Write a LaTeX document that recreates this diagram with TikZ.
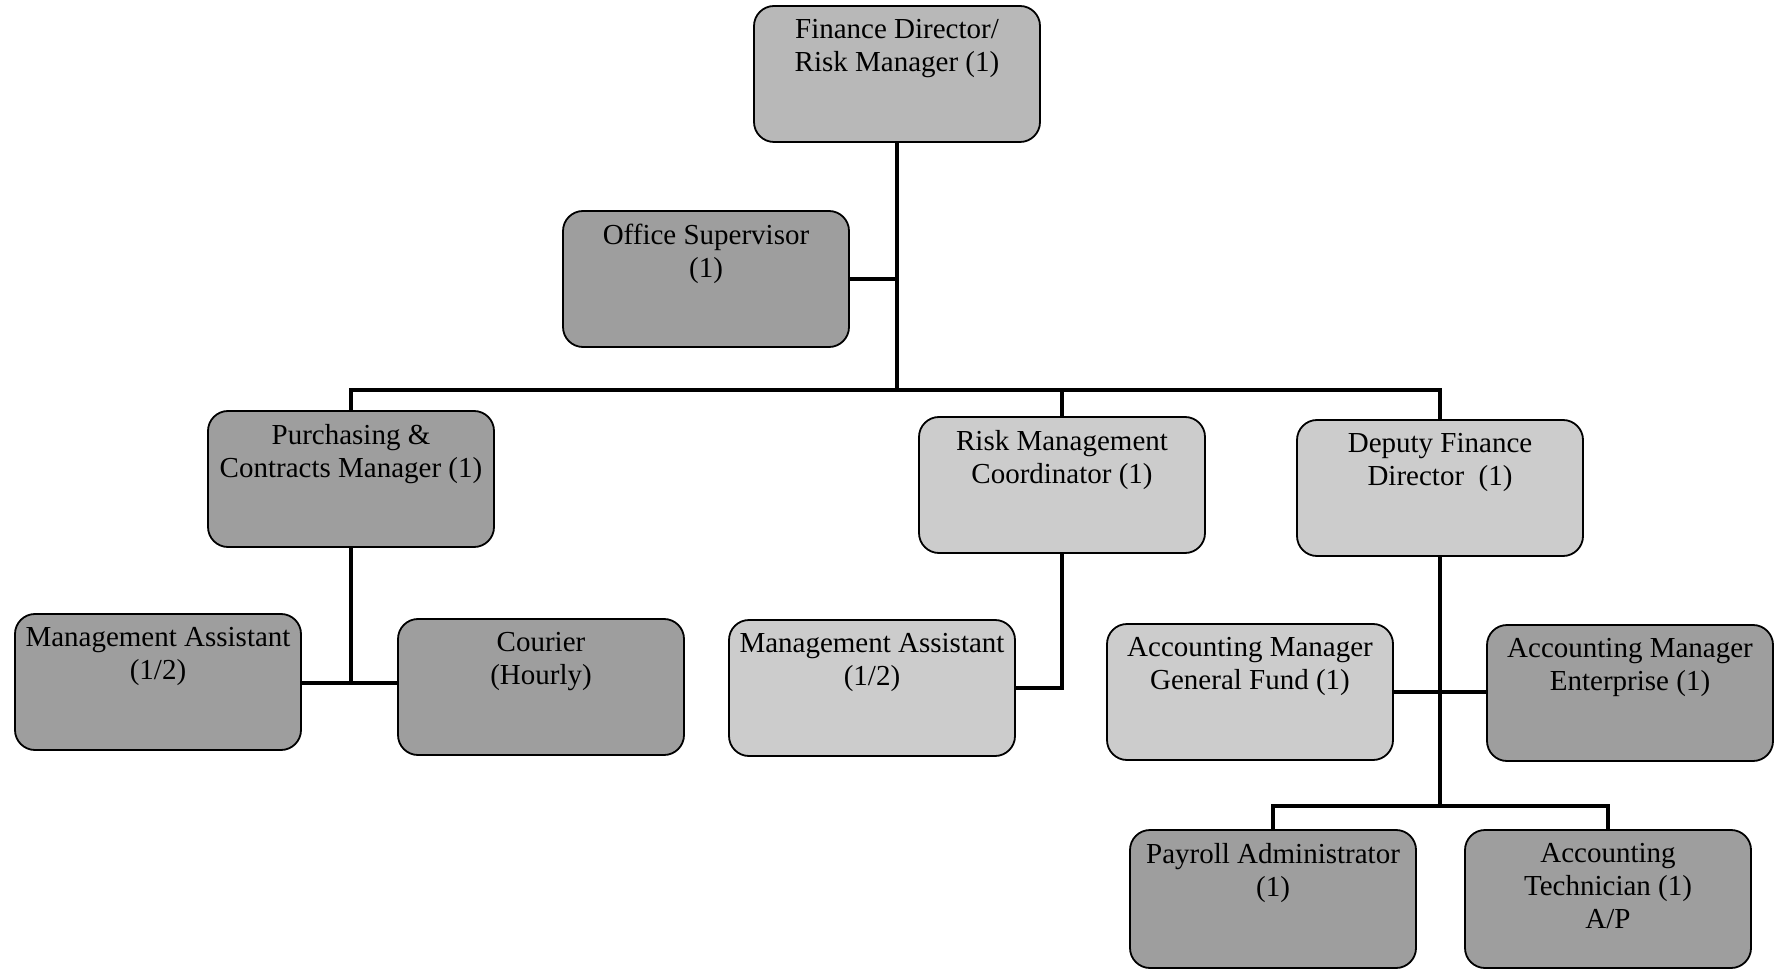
\documentclass[tikz,border=0pt]{standalone}
\usepackage{fontspec}
\setmainfont{Liberation Serif}
\begin{document}
\begin{tikzpicture}[x=0.5pt,y=-0.5pt,
  box/.style={draw=black, line width=0.9pt, rounded corners=10pt, minimum width=143pt, minimum height=68pt, inner sep=0pt},
  light/.style={box, fill=black!20},
  mid/.style={box, fill=black!28},
  dark/.style={box, fill=black!38},
  lbl/.style={anchor=north, align=center, inner sep=0pt, font=\fontsize{14.5pt}{16.5pt}\selectfont},
  conn/.style={line width=2pt}]
\useasboundingbox (0,0) rectangle (1781,972);

% boxes
\node[mid]   (fd)   at (897,74)   {};
\node[dark]  (os)   at (706,279)  {};
\node[dark]  (pm)   at (351,479)  {};
\node[light] (rmc)  at (1062,485) {};
\node[light] (dfd)  at (1440,488) {};
\node[dark]  (ma1)  at (158,682)  {};
\node[dark]  (cou)  at (541,687)  {};
\node[light] (ma2)  at (872,688)  {};
\node[light] (amgf) at (1250,692) {};
\node[dark]  (ame)  at (1630,693) {};
\node[dark, minimum height=69pt]  (pa)   at (1273,899) {};
\node[dark, minimum height=69pt]  (at)   at (1608,899) {};

% labels
\node[lbl] at ([yshift=-7pt]fd.north)   {Finance Director/\\Risk Manager (1)};
\node[lbl] at ([yshift=-7pt]os.north)   {Office Supervisor\\(1)};
\node[lbl] at ([yshift=-7pt]pm.north)   {Purchasing \&\\Contracts Manager (1)};
\node[lbl] at ([yshift=-7pt]rmc.north)  {Risk Management\\Coordinator (1)};
\node[lbl] at ([yshift=-7pt]dfd.north)  {Deputy Finance\\Director~~(1)};
\node[lbl] at ([yshift=-7pt]ma1.north)  {Management Assistant\\(1/2)};
\node[lbl] at ([yshift=-7pt]cou.north)  {Courier\\(Hourly)};
\node[lbl] at ([yshift=-7pt]ma2.north)  {Management Assistant\\(1/2)};
\node[lbl] at ([yshift=-7pt]amgf.north) {Accounting Manager\\General Fund (1)};
\node[lbl] at ([yshift=-7pt]ame.north)  {Accounting Manager\\Enterprise (1)};
\node[lbl] at ([yshift=-7pt]pa.north)   {Payroll Administrator\\(1)};
\node[lbl] at ([yshift=-7pt]at.north)   {Accounting\\Technician (1)\\A/P};

% junction coordinates
\coordinate (b0) at (0,390);
\coordinate (j1) at (0,683);
\coordinate (j3) at (0,692);
\coordinate (b2) at (0,806);

% connectors
\draw[conn] (fd.south) -- (fd.south |- b0);
\draw[conn] (os.east) -- (os.east -| fd.south);
\draw[conn] (pm.north) -- (pm.north |- b0) -- (dfd.north |- b0) -- (dfd.north);
\draw[conn] (rmc.north) -- (rmc.north |- b0);
\draw[conn] (pm.south) -- (pm.south |- j1);
\draw[conn] (ma1.east |- j1) -- (cou.west |- j1);
\draw[conn] (rmc.south) -- (rmc.south |- ma2.east) -- (ma2.east);
\draw[conn] (dfd.south) -- (dfd.south |- b2);
\draw[conn] (amgf.east |- j3) -- (ame.west |- j3);
\draw[conn] (pa.north) -- (pa.north |- b2) -- (at.north |- b2) -- (at.north);
\end{tikzpicture}
\end{document}
